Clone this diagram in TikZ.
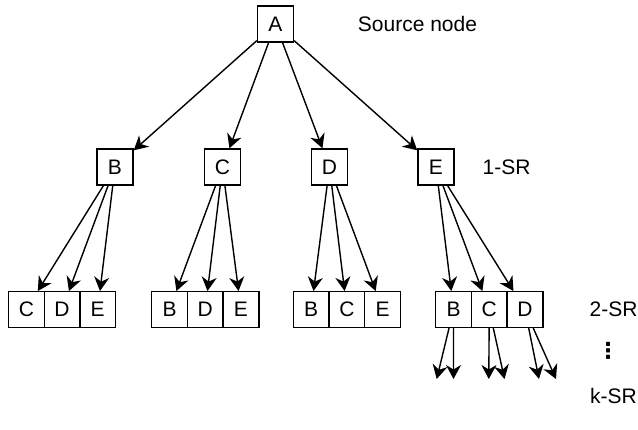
\documentclass[tikz,border=0pt]{standalone}
\usepackage{fontspec}
\setmainfont{Liberation Sans}
\newfontfamily\symfont{DejaVu Sans}
\usetikzlibrary{arrows.meta}
\begin{document}
\begin{tikzpicture}[x=1pt,y=-1pt,
  txt/.style={font=\fontsize{21}{25}\selectfont},
  box/.style={txt, draw, line width=1.4pt, minimum width=36pt, minimum height=36pt, inner sep=0pt},
  cell/.style={box, minimum width=35.7pt, minimum height=35.5pt},
  lab/.style={txt, inner sep=0pt},
  link/.style={line width=1.4pt, -{Stealth[length=14pt,width=15pt,inset=4.5pt]}}]
\useasboundingbox (0,0) rectangle (638,429);

% source
\node[box] (A) at (275.5,24) {A};

% first level
\node[box] (B) at (115,167) {B};
\node[box] (C) at (222.5,167) {C};
\node[box] (D) at (329.5,167) {D};
\node[box] (E) at (436,167) {E};

% second level
\node[cell] (BC) at (26.35,309.5) {C};
\node[cell] (BD) at (62.05,309.5) {D};
\node[cell] (BE) at (97.75,309.5) {E};
\node[cell] (CB) at (169.55,309.5) {B};
\node[cell] (CD) at (205.25,309.5) {D};
\node[cell] (CE) at (240.95,309.5) {E};
\node[cell] (DB) at (311.15,309.5) {B};
\node[cell] (DC) at (346.85,309.5) {C};
\node[cell] (DE) at (382.55,309.5) {E};
\node[cell] (EB) at (453.55,309.5) {B};
\node[cell] (EC) at (489.25,309.5) {C};
\node[cell] (ED) at (524.95,309.5) {D};

% open ends below the last group
\coordinate (o1) at (436.7,379);
\coordinate (o2) at (453.5,379);
\coordinate (o3) at (488.8,379);
\coordinate (o4) at (504.5,379);
\coordinate (o5) at (539,379);
\coordinate (o6) at (556,379);

% level labels
\node[lab] (src) at (417.5,24) {Source node};
\node[lab] (l1) at (506.5,167) {1-SR};
\node[lab] (l2) at (613.5,309) {2-SR};
\node[lab] (ld) at (608,351) {\symfont\bfseries\fontsize{22}{24}\selectfont ⋮};
\node[lab] (lk) at (613.5,396) {k-SR};

% connectors
\foreach \t in {B,C,D,E} \draw[link] (A) -- (\t);
\foreach \t in {BC,BD,BE} \draw[link] (B) -- (\t);
\foreach \t in {CB,CD,CE} \draw[link] (C) -- (\t);
\foreach \t in {DB,DC,DE} \draw[link] (D) -- (\t);
\foreach \t in {EB,EC,ED} \draw[link] (E) -- (\t);
\draw[link] (EB) -- (o1);
\draw[link] (EB) -- (o2);
\draw[link] (EC) -- (o3);
\draw[link] (EC) -- (o4);
\draw[link] (ED) -- (o5);
\draw[link] (ED) -- (o6);
\end{tikzpicture}
\end{document}
